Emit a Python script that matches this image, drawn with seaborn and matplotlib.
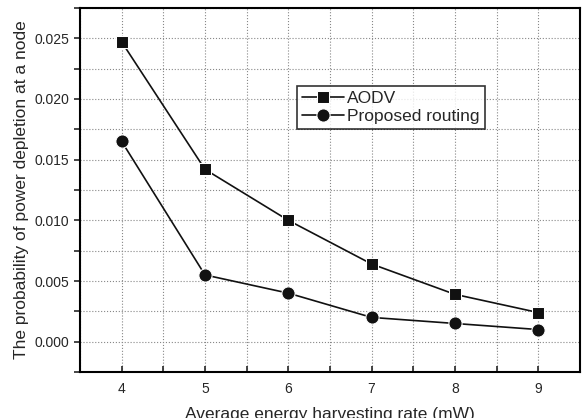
import numpy as np
import pandas as pd
import seaborn as sns
import matplotlib.pyplot as plt
from matplotlib.ticker import MultipleLocator

rates = [4, 5, 6, 7, 8, 9]
aodv = [0.0247, 0.0142, 0.0100, 0.0064, 0.0039, 0.0024]
proposed = [0.0165, 0.0055, 0.0040, 0.0020, 0.0015, 0.0010]

df = pd.DataFrame({
    'rate': rates * 2,
    'prob': aodv + proposed,
    'method': ['AODV'] * 6 + ['Proposed routing'] * 6,
})

sns.set_style("white")
plt.rcParams['font.family'] = ['Liberation Sans', 'DejaVu Sans']

fig = plt.figure(figsize=(5.84, 4.18), dpi=100)
ax = fig.add_axes([0.137, 0.110, 0.856, 0.871])

sns.lineplot(data=df, x='rate', y='prob', hue='method', style='method',
             markers={'AODV': 's', 'Proposed routing': 'o'}, dashes=False,
             palette={'AODV': '#111111', 'Proposed routing': '#111111'},
             markersize=8, linewidth=1.2, ax=ax)
# circles a touch bigger than the squares, as in the original
for ln in ax.get_lines():
    if ln.get_marker() == 'o':
        ln.set_markersize(9.5)

ax.set_xlim(3.5, 9.5)
ax.set_ylim(-0.0025, 0.0275)
ax.xaxis.set_major_locator(MultipleLocator(1))
ax.xaxis.set_minor_locator(MultipleLocator(0.5))
ax.yaxis.set_minor_locator(MultipleLocator(0.0025))
ax.set_yticks(np.arange(0, 0.0251, 0.005))
ax.set_yticklabels([f'{v:.3f}' for v in np.arange(0, 0.0251, 0.005)])

ax.grid(True, which='both', linestyle=':', color='#888888', linewidth=0.8)
for s in ax.spines.values():
    s.set_linewidth(1.5)
    s.set_color('black')
ax.tick_params(axis='y', which='both', direction='out', left=True, right=False, length=4, width=1.2, labelsize=10)
ax.tick_params(axis='x', which='both', direction='in', bottom=True, top=False, length=4, width=1.2, labelsize=10, pad=7)

ax.set_xlabel('Average energy harvesting rate (mW)', fontsize=12.5, labelpad=8)
ax.set_ylabel('The probability of power depletion at a node', fontsize=12.5, labelpad=4)

leg = ax.legend(loc='upper left', bbox_to_anchor=(0.434, 0.786), frameon=True,
                fancybox=False, edgecolor='black', fontsize=12.5,
                handlelength=2.4, borderpad=0.3, labelspacing=0.15,
                handletextpad=0.2, borderaxespad=0)
leg.get_frame().set_linewidth(1.2)
for h in leg.legend_handles:
    if h.get_marker() == 'o':
        h.set_markersize(9.5)

fig.savefig('out.png', dpi=100)
